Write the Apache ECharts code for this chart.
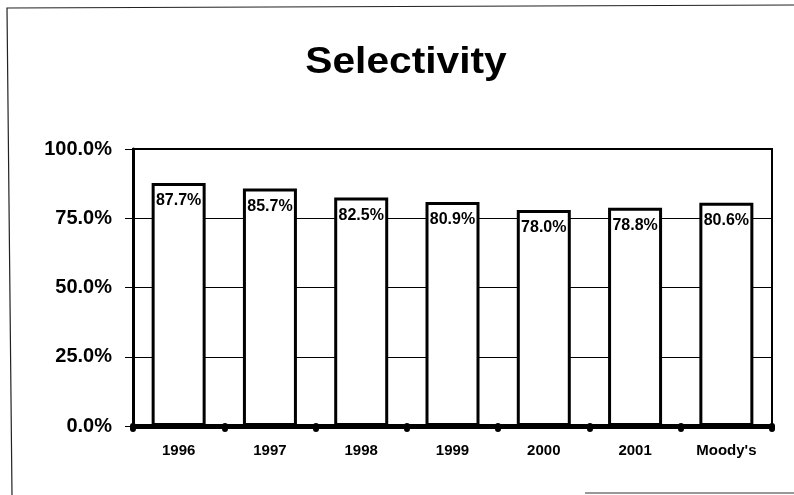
<!DOCTYPE html>
<html>
<head>
<meta charset="utf-8">
<script src="https://cdn.jsdelivr.net/npm/echarts@6/dist/echarts.min.js"></script>
<style>
  html, body { margin: 0; padding: 0; background: #fff; }
  #chart { width: 794px; height: 495px; }
</style>
</head>
<body>
<div id="chart"></div>
<script>
// Selectivity by year, plus the Moody's benchmark
const categories = ['1996', '1997', '1998', '1999', '2000', '2001', "Moody's"];
const selectivity = [87.7, 85.7, 82.5, 80.9, 78.0, 78.8, 80.6];
const yTicks = [0, 25, 50, 75, 100];

const FONT = 'Liberation Sans, Arial, sans-serif';
const chart = echarts.init(document.getElementById('chart'), null, { renderer: 'canvas' });

chart.setOption({
  backgroundColor: '#ffffff',
  animation: false,
  graphic: [
    {
      // chart title, slightly widened around its own centre
      type: 'text',
      x: 406,
      y: 44,
      scaleX: 1.1,
      style: { x: 0, y: 0, text: 'Selectivity', font: 'bold 37px ' + FONT, fill: '#000', textAlign: 'center', textVerticalAlign: 'top' },
      silent: true
    },
    {
      // frame around the sheet
      type: 'polyline',
      shape: { points: [[12, 495], [7, 8], [794, 5]] },
      style: { fill: 'none', stroke: '#222', lineWidth: 1.2 },
      silent: true
    },
    {
      type: 'line',
      shape: { x1: 585, y1: 493, x2: 794, y2: 493 },
      style: { stroke: '#333', lineWidth: 1 },
      silent: true
    }
  ],
  grid: {
    left: 133, right: 22, top: 149, bottom: 69,
    show: true, borderColor: '#000', borderWidth: 2, backgroundColor: 'transparent'
  },
  xAxis: {
    type: 'category',
    data: categories,
    boundaryGap: true,
    axisLine: { show: true, lineStyle: { color: '#000', width: 5 } },
    axisTick: { show: true, length: 3, lineStyle: { color: '#000', width: 6, cap: 'round' } },
    axisLabel: { margin: 17, color: '#000', fontSize: 15, fontWeight: 'bold', fontFamily: FONT },
    z: 10
  },
  yAxis: {
    type: 'value',
    min: yTicks[0],
    max: yTicks[yTicks.length - 1],
    interval: 25,
    axisLine: { show: true, lineStyle: { color: '#000', width: 3 } },
    axisTick: { show: true, length: 8, inside: false, lineStyle: { color: '#000', width: 1 } },
    splitLine: { show: true, lineStyle: { color: '#000', width: 1 } },
    axisLabel: {
      margin: 21,
      color: '#000',
      fontSize: 20,
      fontWeight: 'bold',
      fontFamily: FONT,
      formatter: v => v.toFixed(1) + '%'
    }
  },
  series: [{
    type: 'bar',
    data: selectivity,
    barWidth: 54,
    itemStyle: { color: '#fff', borderColor: '#000', borderWidth: 3 },
    label: {
      show: true,
      position: 'insideTop',
      distance: 10,
      color: '#000',
      fontSize: 16,
      fontWeight: 'bold',
      fontFamily: FONT,
      formatter: p => p.value.toFixed(1) + '%'
    },
    z: 5
  }]
});
</script>
</body>
</html>
